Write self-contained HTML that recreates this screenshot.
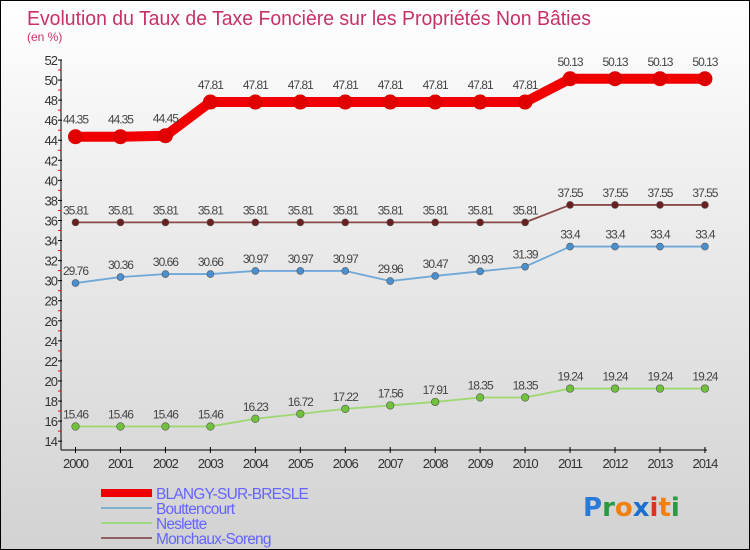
<!DOCTYPE html><html><head><meta charset="utf-8"><style>
body{margin:0}
#c{width:748px;height:548px;border:1px solid #000;background:linear-gradient(#fff,#f0f0f0 30%,#d2d2d2);position:relative;overflow:hidden;font-family:"Liberation Sans",sans-serif}
</style></head><body><div id="c"><svg id="s" width="748" height="548" style="position:absolute;left:0;top:0"></svg></div>
<script>
const s=document.getElementById('s');let h='';
const X=i=>74.5+i*44.96, Y=v=>59+(52-v)*10.03;
h+='<text x="26" y="24" font-size="20" fill="#c8306a" textLength="564" lengthAdjust="spacingAndGlyphs">Evolution du Taux de Taxe Foncière sur les Propriétés Non Bâties</text>';
h+='<text x="26" y="40" font-size="12" fill="#c8306a">(en %)</text>';
h+='<line x1="60" y1="59" x2="60" y2="449" stroke="#000"/><line x1="60" y1="449" x2="706" y2="449" stroke="#000"/>';
for(let v=14;v<=52;v++){const y=Y(v);if(v%2==0){h+=`<line x1="57" y1="${y}" x2="61" y2="${y}" stroke="#000"/><text x="56" y="${y+5}" font-size="13" text-anchor="end" fill="#333" letter-spacing="-1">${v}</text>`}else h+=`<line x1="57" y1="${y}" x2="60" y2="${y}" stroke="red"/>`}
for(let i=0;i<15;i++){const x=X(i);h+=`<line x1="${x}" y1="446" x2="${x}" y2="452" stroke="#000"/><text x="${x}" y="467" font-size="13" text-anchor="middle" fill="#333" letter-spacing="-1">${2000+i}</text>`}
const S=[
[[15.46,15.46,15.46,15.46,16.23,16.72,17.22,17.56,17.91,18.35,18.35,19.24,19.24,19.24,19.24],'#9ed870','#6fc23a',1.8,3.8],
[[29.76,30.36,30.66,30.66,30.97,30.97,30.97,29.96,30.47,30.93,31.39,33.4,33.4,33.4,33.4],'#70a8d8','#4a90d0',1.8,3.5],
[[35.81,35.81,35.81,35.81,35.81,35.81,35.81,35.81,35.81,35.81,35.81,37.55,37.55,37.55,37.55],'#8a4a4a','#6a2020',1.8,3.5],
[[44.35,44.35,44.45,47.81,47.81,47.81,47.81,47.81,47.81,47.81,47.81,50.13,50.13,50.13,50.13],'#f00000','#e00000',10,7]];
for(const [d,c,dc,w,r] of S){h+=`<polyline fill="none" stroke="${c}" stroke-width="${w}" stroke-linejoin="round" points="${d.map((v,i)=>X(i)+','+Y(v)).join(' ')}"/>`;
d.forEach((v,i)=>{h+=`<circle cx="${X(i)}" cy="${Y(v)}" r="${r}" fill="${dc}" stroke="${r>5?'#d00':'#555'}" stroke-width="${r>5?1:0.6}"/><text x="${X(i)}" y="${Y(v)-(r>5?13:8)}" font-size="12" text-anchor="middle" fill="#444" letter-spacing="-1">${v}</text>`})}
const L=[['BLANGY-SUR-BRESLE','#e00',8],['Bouttencourt','#80b0d0',2],['Neslette','#a0d880',2],['Monchaux-Soreng','#906060',2]];
L.forEach((l,i)=>{const y=492+i*15;h+=`<rect x="100" y="${y-l[2]/2}" width="51" height="${l[2]}" fill="${l[1]}"/><text x="155" y="${y+6}" font-size="15.5" fill="#6464ff" letter-spacing="-0.8">${l[0]}</text>`});
h+='<text x="582" y="515" font-size="26" font-family="DejaVu Sans" font-weight="bold"><tspan fill="#2a7ad8">P</tspan><tspan fill="#2a9a40">r</tspan><tspan fill="#f08010">o</tspan><tspan fill="#1a70d0">x</tspan><tspan fill="#e03020">i</tspan><tspan fill="#f08010">t</tspan><tspan fill="#2a9a40">i</tspan></text>';
s.innerHTML=h;
</script></body></html>
